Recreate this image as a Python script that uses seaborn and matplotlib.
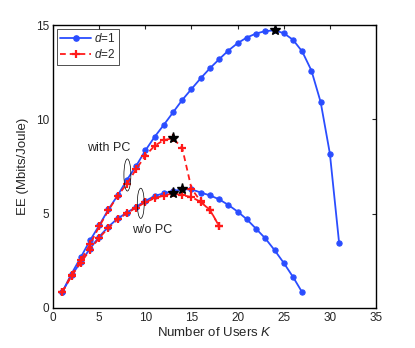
import numpy as np
import pandas as pd
import seaborn as sns
import matplotlib
matplotlib.use('Agg')
import matplotlib.pyplot as plt
from matplotlib.patches import Ellipse
from matplotlib.lines import Line2D

# d=1, with power control
k_d1_pc = list(range(1, 32))
ee_d1_pc = [0.85, 1.82, 2.69, 3.58, 4.38, 5.23, 5.97, 6.79, 7.53, 8.35,
            9.07, 9.71, 10.37, 11.03, 11.61, 12.18, 12.71, 13.19, 13.65, 14.04,
            14.34, 14.55, 14.68, 14.72, 14.57, 14.22, 13.60, 12.59, 10.92, 8.19, 3.46]
# d=2, with power control
k_d2_pc = list(range(1, 19))
ee_d2_pc = [0.85, 1.76, 2.52, 3.38, 4.32, 5.18, 5.95, 6.58, 7.36, 8.07,
            8.60, 8.90, 9.00, 8.47, 6.33, 5.65, 5.20, 4.35]
# d=1, without power control
k_d1_nopc = list(range(1, 28))
ee_d1_nopc = [0.85, 1.74, 2.43, 3.15, 3.78, 4.31, 4.75, 5.05, 5.37, 5.67,
              5.94, 6.08, 6.20, 6.29, 6.29, 6.12, 5.97, 5.76, 5.46, 5.11,
              4.70, 4.20, 3.69, 3.07, 2.39, 1.65, 0.83]
# d=2, without power control
k_d2_nopc = list(range(1, 19))
ee_d2_nopc = [0.85, 1.70, 2.40, 3.08, 3.72, 4.25, 4.70, 5.02, 5.32, 5.60,
              5.82, 5.96, 6.08, 5.98, 5.88, 5.62, 5.19, 4.34]

# optimum points (stars)
star_k = [24, 13, 14, 13]
star_ee = [14.72, 9.00, 6.29, 6.08]

blue = '#2a4dff'
red = '#ff1a1a'

sns.set_style('white')
plt.rcParams['font.family'] = ['Liberation Sans', 'DejaVu Sans']
plt.rcParams['mathtext.fontset'] = 'custom'
plt.rcParams['mathtext.it'] = 'Liberation Sans:italic'
plt.rcParams['lines.dashed_pattern'] = [3.2, 2.2]

fig = plt.figure(figsize=(4.15, 3.48), dpi=100)
ax = fig.add_axes([0.128, 0.115, 0.778, 0.813])

for kk, ee in [(k_d1_pc, ee_d1_pc), (k_d1_nopc, ee_d1_nopc)]:
    sns.lineplot(x=kk, y=ee, ax=ax, color=blue, linestyle='-', lw=1.3,
                 marker='o', markersize=3.8, markeredgecolor=blue)
for kk, ee in [(k_d2_pc, ee_d2_pc), (k_d2_nopc, ee_d2_nopc)]:
    sns.lineplot(x=kk, y=ee, ax=ax, color=red, linestyle='--', lw=1.3,
                 marker='+', markersize=5.5, markeredgewidth=1.6, markeredgecolor=red)

ax.plot(star_k, star_ee, linestyle='none', marker='*', markersize=8,
        color='black', zorder=5)

# annotations
ax.add_patch(Ellipse((8.05, 7.05), 0.75, 1.7, fill=False, ec='black', lw=0.5, zorder=6))
ax.add_patch(Ellipse((9.5, 5.55), 0.75, 1.6, fill=False, ec='black', lw=0.5, zorder=6))
ax.text(6.0, 8.5, 'with PC', fontsize=9, ha='center', va='center')
ax.text(10.7, 4.15, 'w/o PC', fontsize=9, ha='center', va='center')

ax.set_xlim(0, 35)
ax.set_ylim(0, 15)
ax.set_xticks(range(0, 36, 5))
ax.set_yticks([0, 5, 10, 15])
ax.set_xlabel('Number of Users $K$', fontsize=9.5, labelpad=1)
ax.set_ylabel('EE (Mbits/Joule)', fontsize=9.5, labelpad=5)
ax.tick_params(direction='in', top=True, right=True, length=3, width=0.8,
               labelsize=8.5, pad=3)
for s in ax.spines.values():
    s.set_linewidth(1.0)
    s.set_color('black')

handles = [Line2D([], [], color=blue, lw=1.3, marker='o', markersize=3.8),
           Line2D([], [], color=red, lw=1.3, linestyle='--', marker='+',
                  markersize=5.5, markeredgewidth=1.6)]
leg = ax.legend(handles, ['$d$=1', '$d$=2'], loc='upper left', fontsize=8.5,
                frameon=True, fancybox=False, edgecolor='black',
                borderaxespad=0.3, handlelength=2.6, borderpad=0.3,
                labelspacing=0.25, handletextpad=0.3)
leg.get_frame().set_linewidth(0.6)

fig.savefig('out.png', dpi=100)
